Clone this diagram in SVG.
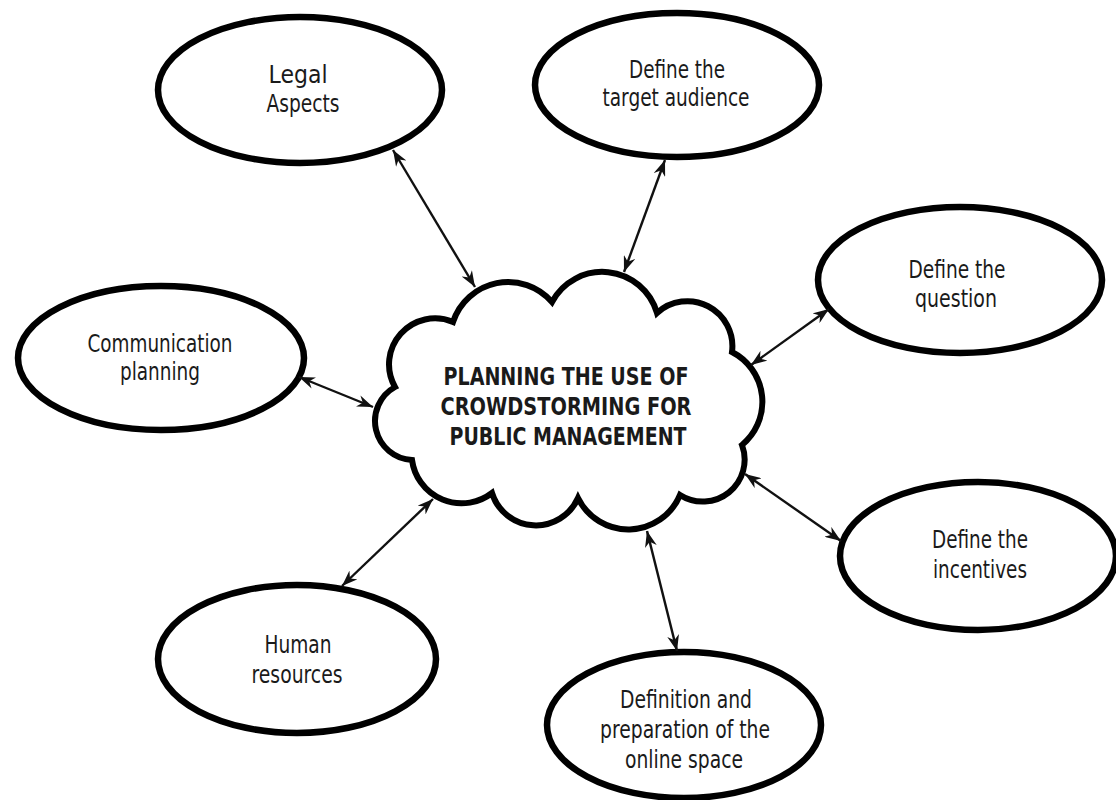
<svg xmlns="http://www.w3.org/2000/svg" width="1116" height="800" viewBox="0 0 1116 800">
<defs>
<style>
.node ellipse{fill:#fff;stroke:#000;stroke-width:6.5}
.lbl{font-family:"DejaVu Sans","Liberation Sans",sans-serif;font-size:24px;fill:#1a1a1a;text-anchor:middle}
.hub{font-family:"DejaVu Sans","Liberation Sans",sans-serif;font-size:24px;font-weight:bold;fill:#1a1a1a;text-anchor:middle}
.cloud{fill:#fff;stroke:#000;stroke-width:6;stroke-linejoin:miter}
.conn line{stroke:#111;stroke-width:2.4;marker-start:url(#ah);marker-end:url(#ah)}
</style>
<marker id="ah" viewBox="0 0 16 12" refX="16" refY="6" markerWidth="16" markerHeight="12" markerUnits="userSpaceOnUse" orient="auto-start-reverse">
<path d="M0,0 L16,6 L0,12 L5,6 Z" fill="#111"/>
</marker>
</defs>
<rect width="1116" height="800" fill="#fff"/>

<g id="center">
<path class="cloud" d="M453,322 A58,58 0 0 1 552,302 A57,57 0 0 1 657,313 A45,45 0 0 1 732,352 A56,56 0 0 1 742,445 A42,42 0 0 1 680,495 A56,56 0 0 1 578,498 A46,46 0 0 1 492,493 A50,50 0 0 1 412,460 A39,39 0 0 1 395,387 A46,46 0 0 1 453,322 Z"/>
<text class="hub" x="566" y="385" textLength="245" lengthAdjust="spacingAndGlyphs">PLANNING THE USE OF</text>
<text class="hub" x="566" y="415" textLength="251" lengthAdjust="spacingAndGlyphs">CROWDSTORMING FOR</text>
<text class="hub" x="568" y="445" textLength="237" lengthAdjust="spacingAndGlyphs">PUBLIC MANAGEMENT</text>
</g>

<g id="legal" class="node">
<ellipse cx="300" cy="90" rx="142" ry="73"/>
<text class="lbl" x="298" y="83" textLength="59" lengthAdjust="spacingAndGlyphs">Legal</text>
<text class="lbl" x="303" y="112" textLength="73" lengthAdjust="spacingAndGlyphs">Aspects</text>
</g>

<g id="target" class="node">
<ellipse cx="677" cy="85" rx="142" ry="72"/>
<text class="lbl" x="677" y="78" textLength="96" lengthAdjust="spacingAndGlyphs">Define the</text>
<text class="lbl" x="676" y="106" textLength="147" lengthAdjust="spacingAndGlyphs">target audience</text>
</g>

<g id="question" class="node">
<ellipse cx="960" cy="280" rx="142" ry="73"/>
<text class="lbl" x="957" y="278" textLength="97" lengthAdjust="spacingAndGlyphs">Define the</text>
<text class="lbl" x="956" y="307" textLength="82" lengthAdjust="spacingAndGlyphs">question</text>
</g>

<g id="communication" class="node">
<ellipse cx="161" cy="358" rx="143" ry="72"/>
<text class="lbl" x="160" y="352" textLength="145" lengthAdjust="spacingAndGlyphs">Communication</text>
<text class="lbl" x="160" y="380" textLength="80" lengthAdjust="spacingAndGlyphs">planning</text>
</g>

<g id="incentives" class="node">
<ellipse cx="978" cy="556" rx="138" ry="74"/>
<text class="lbl" x="980" y="548" textLength="96" lengthAdjust="spacingAndGlyphs">Define the</text>
<text class="lbl" x="980" y="578" textLength="94" lengthAdjust="spacingAndGlyphs">incentives</text>
</g>

<g id="human" class="node">
<ellipse cx="297" cy="659" rx="139" ry="74"/>
<text class="lbl" x="298" y="653" textLength="67" lengthAdjust="spacingAndGlyphs">Human</text>
<text class="lbl" x="297" y="683" textLength="91" lengthAdjust="spacingAndGlyphs">resources</text>
</g>

<g id="online" class="node">
<ellipse cx="684" cy="725" rx="137" ry="73"/>
<text class="lbl" x="686" y="708" textLength="132" lengthAdjust="spacingAndGlyphs">Definition and</text>
<text class="lbl" x="685" y="738" textLength="170" lengthAdjust="spacingAndGlyphs">preparation of the</text>
<text class="lbl" x="684" y="768" textLength="118" lengthAdjust="spacingAndGlyphs">online space</text>
</g>

<g id="connectors" class="conn">
<line x1="393" y1="150" x2="475" y2="287"/>
<line x1="665" y1="160" x2="624" y2="272"/>
<line x1="829" y1="309" x2="751" y2="365"/>
<line x1="299" y1="377" x2="373" y2="407"/>
<line x1="841" y1="541" x2="745" y2="474"/>
<line x1="342" y1="586" x2="433" y2="499"/>
<line x1="677" y1="651" x2="647" y2="531"/>
</g>
</svg>
